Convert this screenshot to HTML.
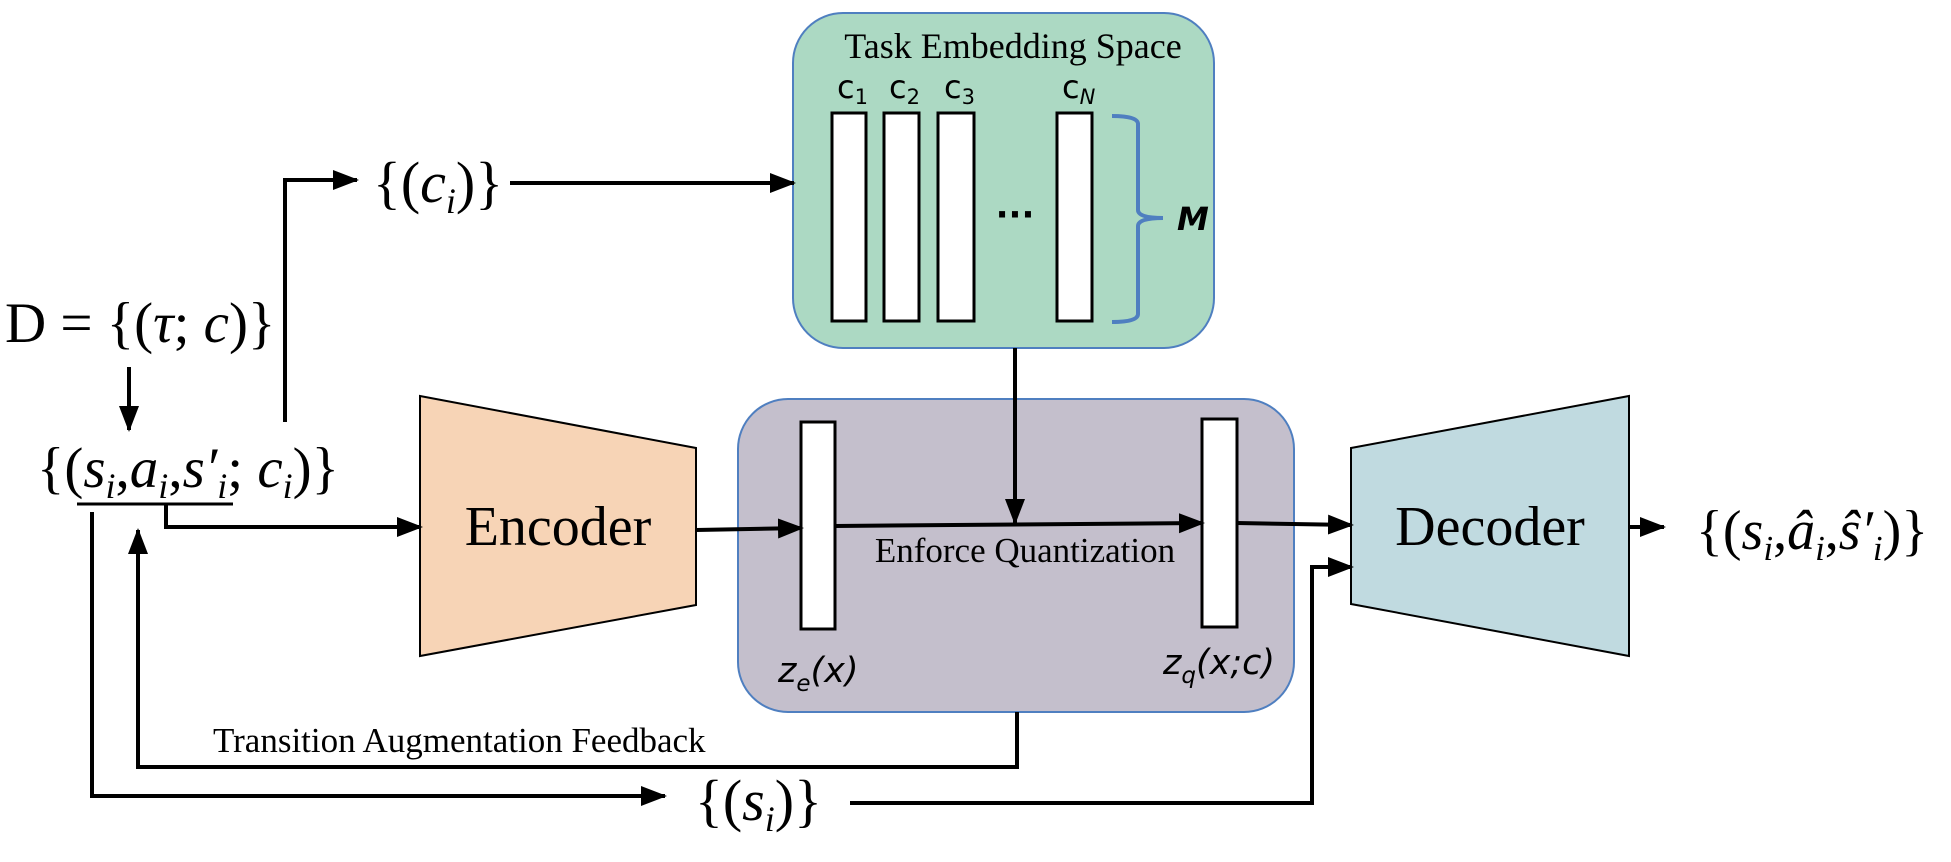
<!DOCTYPE html>
<html><head><meta charset="utf-8"><style>
html,body{margin:0;padding:0;background:#fff;}
svg{display:block;}
.t{font-family:"Liberation Serif",serif;}
.s{font-family:"DejaVu Sans","Liberation Sans",sans-serif;}
</style></head><body>
<svg width="1951" height="862" viewBox="0 0 1951 862" xmlns="http://www.w3.org/2000/svg">
<defs>
<marker id="b" markerWidth="26" markerHeight="24" refX="24" refY="12" orient="auto" markerUnits="userSpaceOnUse" viewBox="0 0 26 24">
<path d="M0,2 L26,12 L0,22 z" fill="#000"/></marker>
</defs>

<rect x="793" y="13" width="421" height="335" rx="50" fill="#acd9c3" stroke="#4f7fc0" stroke-width="2"/>
<text x="1013" y="58" class="t" font-size="36" text-anchor="middle">Task Embedding Space</text>
<g fill="#fff" stroke="#000" stroke-width="3">
<rect x="832" y="113" width="34" height="208"/>
<rect x="884" y="113" width="35" height="208"/>
<rect x="938" y="113" width="36" height="208"/>
<rect x="1057" y="113" width="35" height="208"/>
</g>
<g class="s" font-size="32">
<text x="837" y="98">c<tspan font-size="21" dy="6">1</tspan></text>
<text x="889" y="98">c<tspan font-size="21" dy="6">2</tspan></text>
<text x="944" y="98">c<tspan font-size="21" dy="6">3</tspan></text>
<text x="1062" y="98">c<tspan font-size="21" dy="6" font-style="italic">N</tspan></text>
</g>
<text x="1015" y="226" class="s" font-size="34" font-weight="bold" text-anchor="middle">···</text>
<path d="M1112,116 Q1138,116 1138,124 L1138,210 Q1138,218 1163,218 Q1138,218 1138,226 L1138,314 Q1138,322 1112,322" fill="none" stroke="#4f7fc0" stroke-width="4"/>
<text x="1177" y="230" class="s" font-size="32" font-weight="bold" font-style="italic">M</text>

<rect x="738" y="399" width="556" height="313" rx="50" fill="#c4bfcc" stroke="#4f7fc0" stroke-width="2"/>
<g fill="#fff" stroke="#000" stroke-width="3">
<rect x="801" y="422" width="34" height="207"/>
<rect x="1202" y="419" width="35" height="208"/>
</g>
<text x="1025" y="562" class="t" font-size="35" text-anchor="middle">Enforce Quantization</text>
<text x="778" y="682" class="s" font-size="35" font-style="italic">z<tspan font-size="23" dy="9">e</tspan><tspan dy="-9">(x)</tspan></text>
<text x="1163" y="674" class="s" font-size="35" font-style="italic">z<tspan font-size="23" dy="9">q</tspan><tspan dy="-9">(x;c)</tspan></text>

<polygon points="420,396 696,448 696,605 420,656" fill="#f7d4b6" stroke="#000" stroke-width="2"/>
<text x="558" y="545" class="t" font-size="56" text-anchor="middle">Encoder</text>
<polygon points="1351,448 1629,396 1629,656 1351,604" fill="#c0dae0" stroke="#000" stroke-width="2"/>
<text x="1490" y="545" class="t" font-size="56" text-anchor="middle">Decoder</text>

<text x="5" y="342" class="t" font-size="57">D = {(<tspan font-style="italic">τ</tspan>; <tspan font-style="italic">c</tspan>)}</text>
<text x="37" y="487" class="t" font-size="57">{(<tspan font-style="italic">s</tspan><tspan font-style="italic" font-size="36" dy="11">i</tspan><tspan dy="-11">,</tspan><tspan font-style="italic">a</tspan><tspan font-style="italic" font-size="36" dy="11">i</tspan><tspan dy="-11">,</tspan><tspan font-style="italic">s′</tspan><tspan font-style="italic" font-size="36" dy="11">i</tspan><tspan dy="-11">; </tspan><tspan font-style="italic">c</tspan><tspan font-style="italic" font-size="36" dy="11">i</tspan><tspan dy="-11">)}</tspan></text>
<text x="373" y="202" class="t" font-size="58">{(<tspan font-style="italic">c</tspan><tspan font-style="italic" font-size="36" dy="11">i</tspan><tspan dy="-11">)}</tspan></text>
<text x="695" y="820" class="t" font-size="58">{(<tspan font-style="italic">s</tspan><tspan font-style="italic" font-size="36" dy="11">i</tspan><tspan dy="-11">)}</tspan></text>
<text x="1696" y="549" class="t" font-size="56">{(<tspan font-style="italic">s</tspan><tspan font-style="italic" font-size="35" dy="11">i</tspan><tspan dy="-11">,</tspan><tspan font-style="italic">â</tspan><tspan font-style="italic" font-size="35" dy="11">i</tspan><tspan dy="-11">,</tspan><tspan font-style="italic">ŝ′</tspan><tspan font-style="italic" font-size="35" dy="11">i</tspan><tspan dy="-11">)}</tspan></text>
<text x="213" y="752" class="t" font-size="35">Transition Augmentation Feedback</text>

<g fill="none" stroke="#000" stroke-width="4">
<line x1="129" y1="367" x2="129" y2="430" marker-end="url(#b)"/>
<polyline points="285,422 285,180 357,180" marker-end="url(#b)"/>
<line x1="510" y1="183" x2="794" y2="183" marker-end="url(#b)"/>
<line x1="77" y1="504" x2="233" y2="504" stroke-width="3"/>
<polyline points="166,504 166,527 421,527" marker-end="url(#b)"/>
<line x1="696" y1="530" x2="802" y2="528" marker-end="url(#b)"/>
<line x1="835" y1="526" x2="1203" y2="523" marker-end="url(#b)"/>
<line x1="1015" y1="348" x2="1015" y2="523" marker-end="url(#b)"/>
<line x1="1237" y1="523" x2="1352" y2="525" marker-end="url(#b)"/>
<polyline points="1017,712 1017,767 138,767 138,530" marker-end="url(#b)"/>
<polyline points="92,512 92,796 665,796" marker-end="url(#b)"/>
<polyline points="850,803 1312,803 1312,567 1352,567" marker-end="url(#b)"/>
<line x1="1629" y1="527" x2="1664" y2="527" marker-end="url(#b)"/>
</g>
</svg>
</body></html>
